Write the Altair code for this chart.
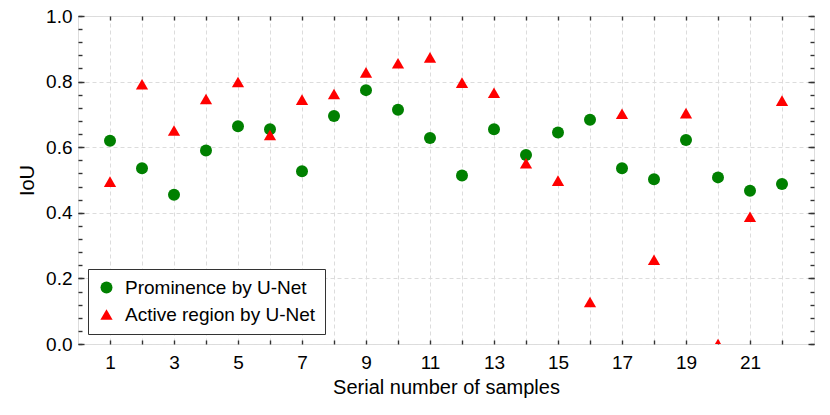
import altair as alt
import pandas as pd

samples = list(range(1, 23))
prominence = [0.620, 0.536, 0.455, 0.590, 0.664, 0.655, 0.527, 0.695, 0.774, 0.714, 0.628,
              0.514, 0.655, 0.576, 0.645, 0.684, 0.536, 0.502, 0.622, 0.508, 0.467, 0.488]
active = [0.495, 0.792, 0.651, 0.747, 0.799, 0.637, 0.745, 0.762, 0.828, 0.856, 0.874,
          0.797, 0.766, 0.551, 0.498, 0.128, 0.702, 0.257, 0.704, 0.000, 0.388, 0.742]
series_names = ["Prominence by U-Net", "Active region by U-Net"]
x_ticks = list(range(1, 23))
y_ticks = [0.0, 0.2, 0.4, 0.6, 0.8, 1.0]
y_minor = [round(i * 0.04, 2) for i in range(26)]

df = pd.DataFrame({
    "sample": samples * 2,
    "iou": prominence + active,
    "series": [series_names[0]] * len(samples) + [series_names[1]] * len(samples),
})

W, H = 736, 328
FONT = "Liberation Sans"
xs = alt.Scale(domain=[0, 23], nice=False, zero=False)
ys = alt.Scale(domain=[0, 1], nice=False, zero=False)

leg = dict(title=None, orient="bottom-left", offset=10, fillColor="white",
           strokeColor="#333333", padding=9, labelFontSize=19, labelFont=FONT,
           labelColor="black", symbolSize=100, labelOffset=9, rowPadding=7,
           cornerRadius=0, labelLimit=400)

points = alt.Chart(df).mark_point(filled=True, opacity=1, clip=True).encode(
    x=alt.X("sample:Q", scale=xs, axis=alt.Axis(
        orient="bottom", values=x_ticks,
        labelExpr="datum.value % 2 == 1 ? datum.label : ''",
        title="Serial number of samples", ticks=False, tickSize=0, domain=False,
        grid=True, gridDash=[4, 3], gridColor="#dcdcdc", gridWidth=1,
        labelPadding=9, labelFontSize=19, labelColor="black", labelFont=FONT,
        titleFontSize=20, titleFontWeight="normal", titleFont=FONT, titleColor="black",
        titlePadding=5)),
    y=alt.Y("iou:Q", scale=ys, axis=alt.Axis(
        orient="left", values=y_ticks, format=".1f", title="IoU",
        ticks=False, tickSize=0, domain=False,
        grid=True, gridDash=[4, 3], gridColor="#dcdcdc", gridWidth=1,
        labelPadding=6, labelFontSize=19, labelColor="black", labelFont=FONT,
        titleFontSize=20, titleFontWeight="normal", titleFont=FONT, titleColor="black",
        titlePadding=8)),
    color=alt.Color("series:N", scale=alt.Scale(domain=series_names, range=["#008000", "#ff0000"]),
                    legend=alt.Legend(**leg)),
    shape=alt.Shape("series:N", scale=alt.Scale(domain=series_names, range=["circle", "triangle-up"]),
                    legend=alt.Legend(**leg)),
    size=alt.Size("series:N", scale=alt.Scale(domain=series_names, range=[144, 150]), legend=None),
)

tick_style = dict(labels=False, domain=False, grid=False, ticks=True,
                  tickWidth=1.4, tickColor="#333333", title=None)

# inward ticks on bottom (x) and left (y): opposite-orient axes shifted across the plot
ticks_a = alt.Chart(df).mark_point(opacity=0).encode(
    x=alt.X("sample:Q", scale=xs, axis=alt.Axis(orient="top", offset=-H, values=x_ticks,
                                                 tickSize=4, **tick_style)),
    y=alt.Y("iou:Q", scale=ys, axis=alt.Axis(orient="right", offset=-W, values=y_minor,
                                              tickSize=4, **tick_style)),
)
# inward ticks on top (x) and right (y)
ticks_b = alt.Chart(df).mark_point(opacity=0).encode(
    x=alt.X("sample:Q", scale=xs, axis=alt.Axis(orient="bottom", offset=-H, values=x_ticks,
                                                 tickSize=4, **tick_style)),
    y=alt.Y("iou:Q", scale=ys, axis=alt.Axis(orient="left", offset=-W, values=y_minor,
                                              tickSize=4, **tick_style)),
)
# longer major y ticks, left and right
ticks_c = alt.Chart(df).mark_point(opacity=0).encode(
    x=alt.X("sample:Q", scale=xs, axis=None),
    y=alt.Y("iou:Q", scale=ys, axis=alt.Axis(orient="right", offset=-W, values=y_ticks,
                                              tickSize=6, **tick_style)),
)
ticks_d = alt.Chart(df).mark_point(opacity=0).encode(
    x=alt.X("sample:Q", scale=xs, axis=None),
    y=alt.Y("iou:Q", scale=ys, axis=alt.Axis(orient="left", offset=-W, values=y_ticks,
                                              tickSize=6, **tick_style)),
)

chart = alt.layer(points, ticks_a, ticks_b, ticks_c, ticks_d).resolve_axis(
    x="independent", y="independent"
).properties(
    width=W, height=H,
    autosize=alt.AutoSizeParams(type="none"),
    padding={"left": 70, "top": 8, "right": 8, "bottom": 55},
).configure_view(
    stroke="black", strokeWidth=1.4
).configure(font=FONT)

chart.save("out.html", embed_options={"renderer": "svg", "actions": False})
